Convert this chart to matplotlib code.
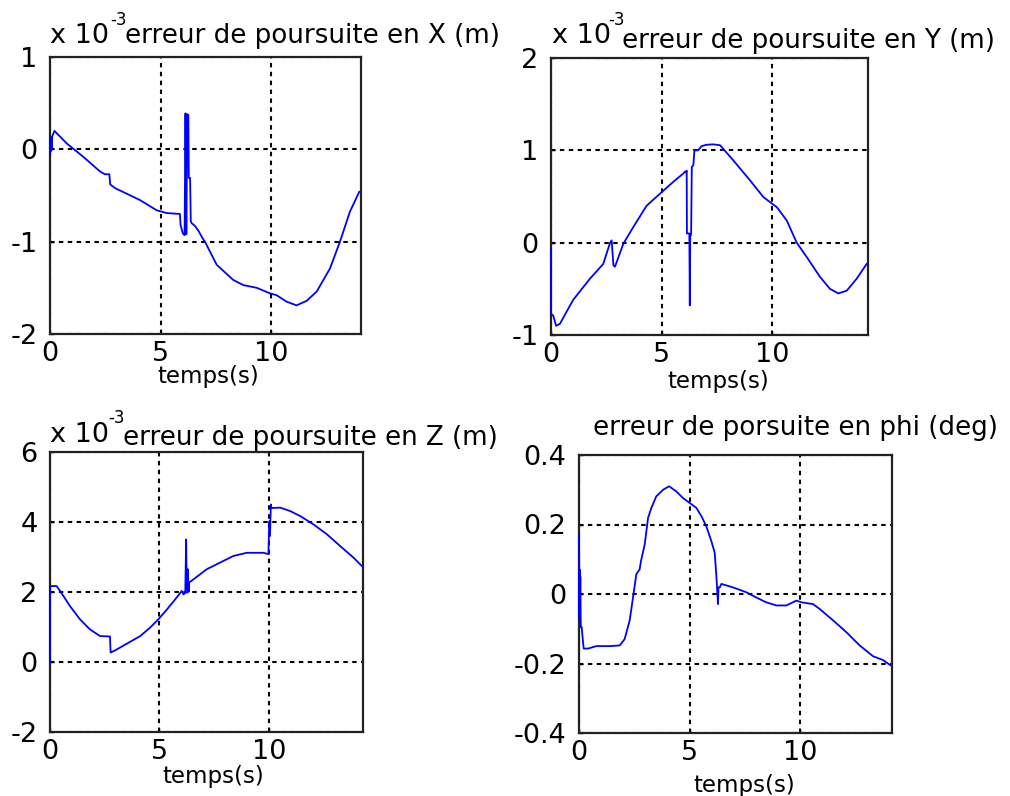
import matplotlib
matplotlib.use("Agg")
import matplotlib.pyplot as plt

plt.rcParams['font.family'] = ['DejaVu Sans']
plt.rcParams['axes.unicode_minus'] = False
plt.rcParams['lines.scale_dashes'] = False

# ---- data (time in s) ----
t_x = [0, 0.02, 0.04, 0.06, 0.08, 0.10, 0.2, 0.75, 1.5, 2.26, 2.48, 2.68, 2.72, 2.94, 3.46, 4.07,
       4.82, 5.27, 5.87, 5.90, 6.00, 6.08, 6.12, 6.16, 6.20, 6.25, 6.27, 6.33, 6.36, 6.40, 6.55,
       6.70, 6.91, 7.0, 7.53, 8.28, 8.73, 9.34, 9.94, 10.24, 10.69, 11.14, 11.6, 12.05, 12.65,
       13.1, 13.55, 13.97]
err_x = [-0.06, 0.12, -0.02, 0.13, 0.0, 0.14, 0.20, 0.065, -0.08, -0.24, -0.27, -0.27, -0.38,
         -0.42, -0.48, -0.55, -0.66, -0.69, -0.70, -0.82, -0.91, -0.93, 0.39, -0.92, 0.38, 0.37,
         -0.31, -0.31, -0.78, -0.80, -0.83, -0.88, -0.97, -1.0, -1.25, -1.415, -1.47, -1.5,
         -1.56, -1.58, -1.65, -1.69, -1.64, -1.54, -1.29, -1.0, -0.675, -0.46]

t_y = [0, 0.005, 0.1, 0.23, 0.4, 1.0, 1.76, 2.36, 2.67, 2.74, 2.82, 2.89, 3.27, 3.72, 4.32,
       4.92, 5.53, 5.98, 6.05, 6.10, 6.13, 6.14, 6.25, 6.27, 6.29, 6.33, 6.36, 6.43, 6.48, 6.65,
       6.8, 7.02, 7.33, 7.64, 8.24, 8.99, 9.59, 10.0, 10.2, 10.65, 11.1, 11.55, 12.15, 12.6,
       12.98, 13.36, 13.81, 14.26]
err_y = [-0.065, -0.77, -0.79, -0.9, -0.88, -0.62, -0.39, -0.23, 0.0, 0.025, -0.245, -0.26,
         -0.01, 0.17, 0.40, 0.53, 0.66, 0.75, 0.77, 0.76, 0.78, 0.10, 0.10, -0.68, 0.07, 0.09,
         0.82, 0.84, 1.0, 1.0, 1.045, 1.06, 1.065, 1.055, 0.89, 0.675, 0.495, 0.42, 0.385, 0.24,
         0.0, -0.155, -0.37, -0.5, -0.55, -0.52, -0.39, -0.23]

t_z = [0, 0.005, 0.3, 0.46, 0.91, 1.37, 1.83, 2.29, 2.74, 2.77, 2.97, 3.5, 4.12, 4.57, 4.95,
       5.34, 5.72, 6.02, 6.1, 6.18, 6.22, 6.25, 6.30, 6.33, 6.36, 6.55, 7.16, 7.77, 8.38, 8.99,
       9.76, 9.98, 10.0, 10.03, 10.05, 10.09, 10.12, 10.52, 10.98, 11.43, 12.04, 12.65, 13.26,
       13.87, 14.25]
err_z = [0, 2.17, 2.17, 2.03, 1.6, 1.22, 0.93, 0.74, 0.73, 0.27, 0.33, 0.52, 0.74, 0.98, 1.22,
         1.5, 1.79, 2.03, 1.93, 1.98, 3.5, 1.98, 2.65, 2.0, 2.27, 2.36, 2.65, 2.84, 3.03, 3.12,
         3.12, 3.08, 3.6, 4.03, 3.6, 4.5, 4.4, 4.41, 4.31, 4.17, 3.93, 3.65, 3.31, 2.98, 2.74]

t_phi = [0, 0.01, 0.02, 0.03, 0.04, 0.06, 0.08, 0.12, 0.21, 0.41, 0.78, 1.39, 1.84, 2.06, 2.29,
         2.44, 2.59, 2.74, 2.80, 2.97, 3.12, 3.27, 3.49, 3.8, 4.07, 4.4, 4.7, 5.0, 5.3, 5.53,
         5.75, 5.98, 6.13, 6.2, 6.28, 6.30, 6.36, 6.43, 6.96, 7.56, 8.01, 8.46, 8.92, 9.37,
         9.82, 10.05, 10.57, 10.87, 11.48, 12.08, 12.68, 13.28, 13.73, 14.07]
err_phi = [0.17, 0.07, -0.07, 0.07, -0.06, 0.05, -0.095, -0.095, -0.157, -0.157, -0.15, -0.15,
           -0.148, -0.13, -0.076, -0.01, 0.057, 0.071, 0.095, 0.143, 0.219, 0.248, 0.281, 0.30,
           0.31, 0.295, 0.276, 0.262, 0.248, 0.224, 0.195, 0.152, 0.119, 0.057, -0.029, 0.019,
           0.019, 0.029, 0.019, 0.005, -0.01, -0.024, -0.033, -0.033, -0.019, -0.024, -0.029,
           -0.043, -0.076, -0.11, -0.148, -0.179, -0.19, -0.205]

titles = ["erreur de poursuite en X (m)", "erreur de poursuite en Y (m)",
          "erreur de poursuite en Z (m)", "erreur de porsuite en phi (deg)"]
xlabel = "temps(s)"
x_ticks = [0, 5, 10]
y_ticks = [[-2, -1, 0, 1], [-1, 0, 1, 2], [-2, 0, 2, 4, 6], [-0.4, -0.2, 0, 0.2, 0.4]]
y_ticklabels = [["-2", "-1", "0", "1"], ["-1", "0", "1", "2"], ["-2", "0", "2", "4", "6"],
                ["-0.4", "-0.2", "0", "0.2", "0.4"]]

W, H = 1010, 796
fig = plt.figure(figsize=(W / 100, H / 100), dpi=100)

# axes boxes in pixels: left, right, top, bottom
boxes = [(50, 361, 57, 334), (551, 868, 58, 335), (50, 363, 452, 732), (579, 892, 455, 733)]
xmaxs = [14.05, 14.32, 14.3, 14.14]
series = [(t_x, err_x), (t_y, err_y), (t_z, err_z), (t_phi, err_phi)]
ylims = [(-2, 1), (-1, 2), (-2, 6), (-0.4, 0.4)]

def px(x, y):
    return x / W, 1 - y / H

for i, (box, (t, v)) in enumerate(zip(boxes, series)):
    l, r, tp, b = box
    ax = fig.add_axes([l / W, 1 - b / H, (r - l) / W, (b - tp) / H])
    ax.plot(t, v, color='#0000ff', lw=1.3, zorder=3, clip_on=False)
    ax.set_xlim(0, xmaxs[i])
    ax.set_ylim(*ylims[i])
    ax.set_xticks(x_ticks)
    ax.set_xticklabels([str(x) for x in x_ticks])
    ax.set_yticks(y_ticks[i])
    ax.set_yticklabels(y_ticklabels[i])
    ax.grid(True, color='black', lw=1.5, linestyle=(0, (3.2, 3.2)))
    ax.tick_params(direction='in', length=3, width=1, labelsize=19.5, color='black')
    ax.tick_params(axis='x', pad=5)
    ax.tick_params(axis='y', pad=9)
    ax.tick_params(top=False, right=False)
    for s in ax.spines.values():
        s.set_linewidth(1.6)
        s.set_color('#222222')

# titles and exponent labels
exp_pos = [(50, 43, 110, 25), (552, 43, 608, 25), (50, 442, 108, 423)]
for (x0, y0, x1, y1) in exp_pos:
    fig.text(*px(x0, y0), "x 10", fontsize=19.5, ha='left', va='baseline')
    fig.text(*px(x1, y1), "-3", fontsize=12, ha='left', va='baseline')

title_pos = [(125, 43), (622, 48), (123, 445), (593, 435)]
for (x0, y0), ttl in zip(title_pos, titles):
    fig.text(*px(x0, y0), ttl, fontsize=18.8, ha='left', va='baseline')

xlab_pos = [(208, 383), (718, 388), (213, 783), (744, 792)]
for (x0, y0) in xlab_pos:
    fig.text(*px(x0, y0), xlabel, fontsize=16.5, ha='center', va='baseline')

fig.savefig("out.png", dpi=100, facecolor='white')
